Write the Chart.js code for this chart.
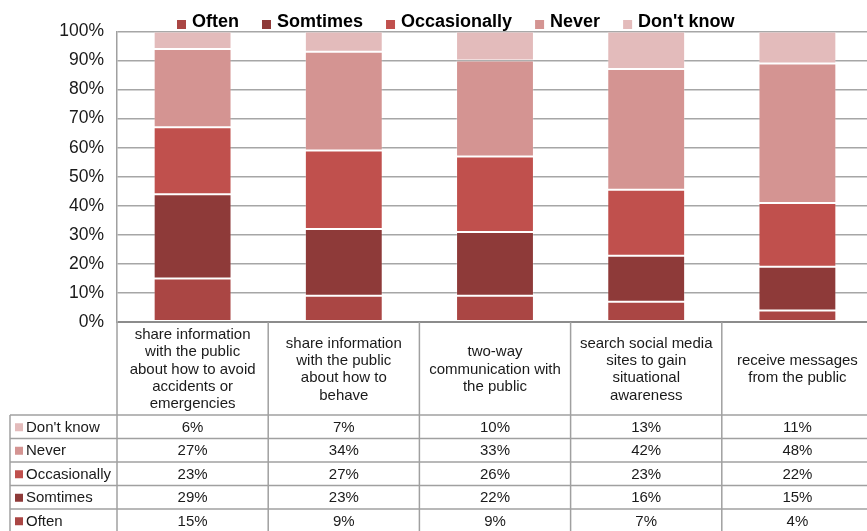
<!DOCTYPE html>
<html>
<head>
<meta charset="utf-8">
<script src="https://cdn.jsdelivr.net/npm/chart.js@4/dist/chart.umd.min.js"></script>
<style>
  html, body { margin: 0; padding: 0; background: #fff; overflow: hidden; }
  #wrap { width: 867px; height: 531px; overflow: hidden; }
  canvas { display: block; }
</style>
</head>
<body>
<div id="wrap"><canvas id="c" width="873" height="531"></canvas></div>
<script>
const categories = [
  ["share information", "with the public", "about how to avoid", "accidents or", "emergencies"],
  ["share information", "with the public", "about how to", "behave"],
  ["two-way", "communication with", "the public"],
  ["search social media", "sites to gain", "situational", "awareness"],
  ["receive messages", "from the public"]
];
const seriesNames = ["Often", "Somtimes", "Occasionally", "Never", "Don't know"];
const often        = [15, 9, 9, 7, 4];
const sometimes    = [29, 23, 22, 16, 15];
const occasionally = [23, 27, 26, 23, 22];
const never        = [27, 34, 33, 42, 48];
const dontKnow     = [6, 7, 10, 13, 11];
const seriesColors = ["#AA4644", "#8E3A39", "#C0504D", "#D49492", "#E3BBBB"];
const yTickStep = 10;

const seriesValues = [often, sometimes, occasionally, never, dontKnow];
const totals = categories.map((_, i) => seriesValues.reduce((s, arr) => s + arr[i], 0));

const FONT = "'Liberation Sans', Arial, sans-serif";

const tablePlugin = {
  id: 'tablePlugin',
  afterDraw(chart) {
    const ctx = chart.ctx;
    const xs = chart.scales.x;
    const ca = chart.chartArea;
    const n = categories.length;
    const w = (ca.right - ca.left) / n;
    const top = ca.bottom;
    const headerBottom = 415;
    const rowH = 23.5;
    const tableLeft = 10;
    const bottom = chart.height + 5;
    ctx.save();
    ctx.strokeStyle = "#a0a0a0";
    ctx.lineWidth = 1.5;
    for (let i = 0; i <= n; i++) {
      const x = ca.left + i * w;
      ctx.beginPath(); ctx.moveTo(x, top); ctx.lineTo(x, bottom); ctx.stroke();
    }
    ctx.beginPath(); ctx.moveTo(tableLeft, headerBottom); ctx.lineTo(tableLeft, bottom); ctx.stroke();
    for (let r = 0; r <= seriesNames.length; r++) {
      const y = headerBottom + r * rowH;
      ctx.beginPath(); ctx.moveTo(tableLeft, y); ctx.lineTo(ca.right, y); ctx.stroke();
    }
    ctx.fillStyle = "#1a1a1a";
    ctx.font = "15px " + FONT;
    ctx.textAlign = "center";
    ctx.textBaseline = "middle";
    const lh = 17.3;
    const hc = (top + headerBottom) / 2;
    categories.forEach((lines, i) => {
      const cx = xs.getPixelForValue(i);
      const y0 = hc - (lines.length - 1) * lh / 2;
      lines.forEach((t, k) => ctx.fillText(t, cx, y0 + k * lh + 1));
    });
    const order = seriesNames.map((_, i) => i).reverse();
    order.forEach((si, r) => {
      const yc = headerBottom + r * rowH + rowH / 2 + 1;
      ctx.fillStyle = seriesColors[si];
      ctx.fillRect(15, yc - 4.5, 8, 8);
      ctx.fillStyle = "#1a1a1a";
      ctx.textAlign = "left";
      ctx.fillText(seriesNames[si], 26, yc);
      ctx.textAlign = "center";
      seriesValues[si].forEach((v, i) => {
        ctx.fillText(v + "%", xs.getPixelForValue(i), yc);
      });
    });
    ctx.font = "bold 18px " + FONT;
    ctx.textAlign = "left";
    ctx.textBaseline = "alphabetic";
    let lx = 177;
    seriesNames.forEach((name, si) => {
      ctx.fillStyle = seriesColors[si];
      ctx.fillRect(lx, 20, 9, 9);
      ctx.fillStyle = "#000";
      ctx.fillText(name, lx + 15, 27);
      lx += 15 + ctx.measureText(name).width + 23;
    });
    ctx.restore();
  }
};

new Chart(document.getElementById('c'), {
  type: 'bar',
  data: {
    labels: categories,
    datasets: seriesNames.map((name, si) => ({
      label: name,
      data: seriesValues[si].map((v, i) => v / totals[i] * 100),
      backgroundColor: seriesColors[si],
      borderColor: "rgba(255,255,255,0.22)",
      borderWidth: 1,
      borderSkipped: false,
      barPercentage: 0.515,
      categoryPercentage: 1
    }))
  },
  options: {
    responsive: false,
    animation: false,
    devicePixelRatio: 1,
    layout: { padding: { top: 31.5, bottom: 209, left: 0, right: 0 } },
    plugins: { legend: { display: false }, tooltip: { enabled: false } },
    scales: {
      x: { stacked: true, display: false },
      y: {
        stacked: true,
        min: 0, max: 100,
        afterFit(scale) { scale.width = 117; },
        ticks: {
          stepSize: yTickStep,
          padding: 13,
          color: "#1a1a1a",
          font: { family: FONT, size: 17.5 },
          callback: v => v + "%"
        },
        grid: {
          drawTicks: false,
          color: ctx => ctx.tick && ctx.tick.value === 0 ? "#8c8c8c" : "#a6a6a6",
          lineWidth: ctx => ctx.tick && ctx.tick.value === 0 ? 2 : 1.5
        },
        border: { display: true, color: "#a0a0a0", width: 1.5 }
      }
    }
  },
  plugins: [tablePlugin]
});
</script>
</body>
</html>
